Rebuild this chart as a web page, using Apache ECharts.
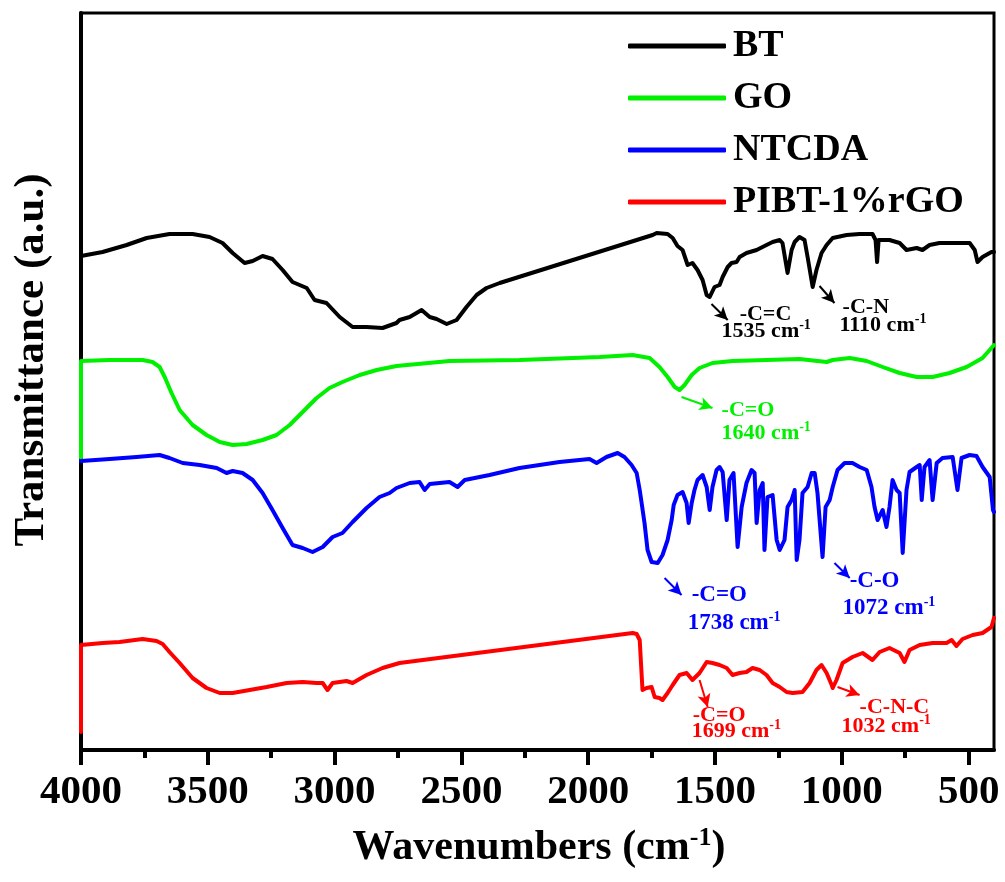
<!DOCTYPE html>
<html><head><meta charset="utf-8">
<script src="https://cdn.jsdelivr.net/npm/echarts@6/dist/echarts.min.js"></script>
<style>html,body{margin:0;padding:0;background:#fff}#c{width:1005px;height:882px}</style>
</head><body><div id="c"></div>
<script>
const FONT = 'Liberation Serif';
const seriesNames = ['BT', 'GO', 'NTCDA', 'PIBT-1%rGO'];
const seriesColors = ['#000000', '#00f000', '#0000ff', '#ff0000'];
const xTicks = [4000, 3500, 3000, 2500, 2000, 1500, 1000, 500];
const xMinorTicks = [3750, 3250, 2750, 2250, 1750, 1250, 750];

// [wavenumber (cm-1), transmittance (a.u., offset)]
const bt = [[4000,494],[3915,498],[3820,505],[3741,512],[3651,516],[3560,516],[3493,513],[3442,507],[3402,497],[3355,487],[3323,489],[3284,494],[3245,491],[3205,480],[3166,468],[3110,462],[3079,450],[3032,447],[2980,433],[2929,423],[2874,423],[2811,422],[2756,427],[2744,430],[2704,433],[2657,440],[2625,433],[2598,431],[2558,426],[2519,430],[2480,443],[2440,455],[2401,462],[2349,467],[1746,515],[1730,517],[1687,516],[1667,512],[1648,504],[1628,500],[1608,485],[1589,487],[1569,480],[1549,470],[1533,455],[1521,453],[1502,463],[1482,465],[1470,473],[1450,483],[1435,487],[1415,488],[1403,493],[1376,497],[1336,500],[1297,505],[1273,508],[1245,510],[1234,507],[1214,477],[1198,500],[1186,508],[1167,513],[1147,510],[1135,493],[1115,463],[1100,480],[1080,497],[1060,505],[1036,512],[981,515],[930,516],[879,516],[867,510],[861,488],[855,510],[812,510],[772,507],[745,500],[705,502],[682,500],[654,505],[615,507],[547,507],[496,507],[476,500],[465,488],[445,493],[410,498],[400,498]];

const go = [[4000,292],[4000,389],[3887,390],[3757,390],[3718,388],[3690,383],[3670,373],[3643,357],[3611,340],[3560,325],[3505,315],[3453,308],[3402,305],[3347,306],[3284,310],[3229,315],[3177,325],[3126,338],[3071,352],[3020,362],[2969,368],[2901,375],[2834,380],[2756,384],[2547,389],[2271,390],[1955,393],[1825,395],[1758,392],[1719,383],[1687,373],[1659,363],[1640,360],[1620,365],[1592,375],[1561,382],[1510,387],[1431,389],[1297,390],[1167,391],[1060,388],[1036,390],[969,392],[902,389],[839,383],[772,377],[705,373],[642,373],[575,377],[508,383],[445,392],[400,405]];

const ntcda = [[4000,289],[3887,291],[3781,293],[3690,295],[3651,292],[3599,287],[3532,285],[3465,282],[3426,277],[3402,279],[3363,277],[3323,270],[3284,257],[3245,240],[3205,222],[3166,205],[3126,202],[3087,198],[3047,203],[3008,213],[2969,217],[2929,228],[2874,242],[2823,253],[2783,257],[2756,262],[2704,267],[2665,268],[2645,260],[2625,266],[2547,268],[2515,263],[2487,270],[2389,275],[2271,282],[2113,288],[1995,291],[1967,287],[1928,293],[1884,297],[1857,293],[1829,285],[1809,277],[1797,260],[1790,248],[1778,227],[1766,200],[1750,188],[1726,187],[1707,195],[1687,210],[1671,230],[1663,245],[1648,255],[1628,258],[1612,247],[1604,227],[1592,247],[1581,260],[1569,270],[1549,275],[1533,263],[1521,240],[1510,263],[1494,280],[1482,283],[1470,278],[1454,230],[1443,270],[1427,277],[1411,203],[1395,243],[1376,267],[1356,280],[1344,277],[1336,227],[1324,260],[1312,267],[1305,200],[1293,253],[1273,255],[1257,210],[1245,200],[1226,210],[1214,243],[1198,250],[1186,260],[1178,190],[1167,210],[1155,257],[1135,263],[1119,277],[1107,277],[1096,257],[1076,193],[1064,243],[1048,250],[1036,263],[1017,280],[989,287],[958,287],[930,283],[902,280],[883,263],[871,243],[859,230],[839,240],[824,223],[812,243],[800,270],[784,260],[772,257],[760,197],[745,260],[733,278],[705,283],[693,285],[685,250],[674,283],[654,290],[642,250],[626,287],[603,292],[563,293],[544,260],[528,292],[496,295],[469,294],[445,283],[417,273],[404,240],[400,238]];

const pibt = [[4000,18],[4000,105],[3915,107],[3848,108],[3757,111],[3702,109],[3678,106],[3651,98],[3611,87],[3560,72],[3505,62],[3453,57],[3402,57],[3335,60],[3268,63],[3189,67],[3126,68],[3071,67],[3047,67],[3028,60],[3008,67],[2953,69],[2929,67],[2874,75],[2811,82],[2744,87],[1825,117],[1809,116],[1797,110],[1786,60],[1770,62],[1750,63],[1738,53],[1719,52],[1707,50],[1687,57],[1667,65],[1640,75],[1612,77],[1589,70],[1561,77],[1533,88],[1510,87],[1482,85],[1454,82],[1431,75],[1403,77],[1376,78],[1352,82],[1324,80],[1297,75],[1273,67],[1245,63],[1218,58],[1194,57],[1155,58],[1127,67],[1100,80],[1080,85],[1060,77],[1040,65],[1036,62],[1021,70],[997,87],[958,93],[918,97],[879,90],[851,98],[812,102],[772,97],[753,88],[733,100],[693,105],[642,107],[587,107],[567,110],[548,104],[524,111],[484,115],[445,117],[410,123],[400,132]];

const allSeries = [bt, go, ntcda, pibt];

// annotation texts: [seriesIndex, text, sup, wavenumber, T, fontSize]
const annoTexts = [
  [0, '-C=C', '', 1403, 436, 22],
  [0, '1535 cm', '-1', 1474, 419, 22],
  [0, '-C-N', '', 997, 443, 22],
  [0, '1110 cm', '-1', 1009, 425, 22],
  [1, '-C=O', '', 1474, 340, 22],
  [1, '1640 cm', '-1', 1474, 317, 22],
  [2, '-C=O', '', 1592, 155, 23],
  [2, '1738 cm', '-1', 1608, 127, 23],
  [2, '-C-O', '', 969, 169, 23],
  [2, '1072 cm', '-1', 997, 142, 23],
  [3, '-C=O', '', 1588, 35, 22],
  [3, '1699 cm', '-1', 1592, 19, 22],
  [3, '-C-N-C', '', 930, 43, 22],
  [3, '1032 cm', '-1', 1001, 24, 22]
];
// arrows: [seriesIndex, fromW, fromT, toW, toT]
const annoArrows = [
  [0, 1514, 446, 1450, 430],
  [0, 1088, 464, 1029, 447],
  [1, 1632, 353, 1510, 342],
  [2, 1699, 172, 1632, 155],
  [2, 1029, 187, 969, 172],
  [3, 1561, 70, 1529, 43],
  [3, 1017, 63, 930, 55]
];

const chart = echarts.init(document.getElementById('c'), null, {renderer: 'canvas'});

const lineSeries = seriesNames.map((n, i) => ({
  name: n, type: 'line', data: allSeries[i], showSymbol: false, symbol: 'none',
  smooth: false,
  lineStyle: {color: seriesColors[i], width: 4, join: 'round', cap: 'round'},
  itemStyle: {color: seriesColors[i]},
  silent: true, animation: false, z: 3
}));

const annoSeries = seriesNames.map((n, i) => ({
  name: 'anno' + i, type: 'scatter', symbolSize: 0, silent: true, animation: false, z: 5,
  itemStyle: {color: seriesColors[i], opacity: 1},
  data: annoTexts.filter(a => a[0] === i).map(a => ({
    value: [a[3], a[4]],
    label: {
      show: true, position: [0, 0], align: 'left', verticalAlign: 'middle', opacity: 1,
      formatter: a[2] ? a[1] + '{s|' + a[2] + '}' : a[1],
      fontFamily: FONT, fontWeight: 'bold', fontSize: a[5], color: seriesColors[i],
      rich: {s: {fontFamily: FONT, fontWeight: 'bold', fontSize: Math.round(a[5] * 0.62), color: seriesColors[i], padding: [0, 0, 12, 0]}}
    }
  })),
  markLine: {
    silent: true, animation: false, symbol: ['none', 'arrow'], symbolSize: [10, 13],
    lineStyle: {color: seriesColors[i], width: 2, type: 'solid', opacity: 1},
    itemStyle: {color: seriesColors[i], opacity: 1},
    label: {show: false},
    data: annoArrows.filter(a => a[0] === i).map(a => [{coord: [a[1], a[2]]}, {coord: [a[3], a[4]]}])
  }
}));

chart.setOption({
  animation: false,
  backgroundColor: '#fff',
  grid: {left: 81, right: 11, top: 13, bottom: 132, show: true, borderColor: '#000', borderWidth: 3, backgroundColor: 'transparent'},
  legend: {
    data: seriesNames, orient: 'vertical', left: 623, top: 22, itemWidth: 98, itemHeight: 5, itemGap: 14,
    icon: 'roundRect', selectedMode: false,
    textStyle: {fontFamily: FONT, fontWeight: 'bold', fontSize: 38, color: '#000', padding: [0, 0, 0, 2]}
  },
  xAxis: [{
    type: 'value', min: 400, max: 4000, inverse: true, position: 'bottom',
    axisLine: {show: true, lineStyle: {color: '#000', width: 4}},
    axisTick: {show: true, customValues: xTicks, length: 15, inside: false, lineStyle: {color: '#000', width: 4}},
    axisLabel: {show: true, customValues: xTicks, margin: 22, fontFamily: FONT, fontWeight: 'bold', fontSize: 41, color: '#000', formatter: v => String(v)},
    splitLine: {show: false}
  }, {
    type: 'value', min: 400, max: 4000, inverse: true, position: 'bottom', offset: 0,
    axisLine: {show: false},
    axisTick: {show: true, customValues: xMinorTicks, length: 8, lineStyle: {color: '#000', width: 4}},
    axisLabel: {show: false},
    splitLine: {show: false}
  }],
  yAxis: {
    type: 'value', min: 0, max: 737,
    axisLine: {show: true, lineStyle: {color: '#000', width: 4}},
    axisTick: {show: false}, axisLabel: {show: false}, splitLine: {show: false}
  },
  graphic: [
    {type: 'text', x: 32, y: 360, rotation: Math.PI / 2,
     style: {text: 'Transmittance (a.u.)', fontFamily: FONT, fontWeight: 'bold', fontSize: 43, fill: '#000', align: 'center', verticalAlign: 'middle'}},
    {type: 'text', x: 539, y: 848,
     style: {text: 'Wavenumbers (cm{s|-1})', fontFamily: FONT, fontWeight: 'bold', fontSize: 42, fill: '#000', align: 'center', verticalAlign: 'middle',
       rich: {s: {fontFamily: FONT, fontWeight: 'bold', fontSize: 26, fill: '#000', padding: [0, 0, 20, 0]}}}}
  ],
  series: lineSeries.concat(annoSeries)
});
</script></body></html>
